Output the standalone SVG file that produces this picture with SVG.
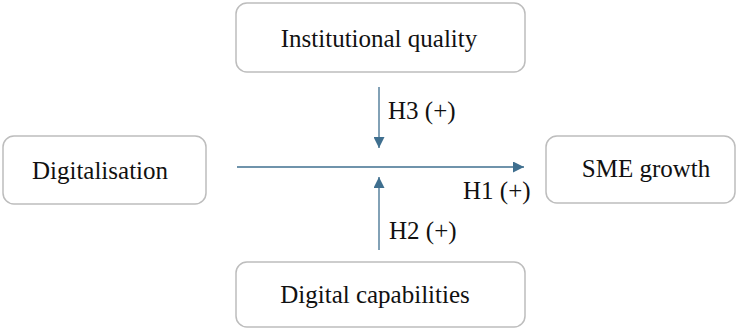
<svg xmlns="http://www.w3.org/2000/svg" width="737" height="329" viewBox="0 0 737 329">
<style>
.box{fill:#fff;stroke:#bdbdbd;stroke-width:1.5}
.t{font-family:"Liberation Serif",serif;font-size:25px;fill:#111}
.c{stroke:#3f6f8f;stroke-width:1.3;fill:none}
</style>
<defs>
<marker id="ah" viewBox="0 0 10 10" refX="10" refY="5" markerWidth="11" markerHeight="11" markerUnits="userSpaceOnUse" orient="auto">
<path d="M0,0 L10,5 L0,10 z" fill="#3f6f8f"/>
</marker>
</defs>
<rect width="737" height="329" fill="#fff"/>
<g id="digitalisation"><rect class="box" x="3" y="136" width="203" height="68" rx="11"/><text class="t" x="100" y="179" text-anchor="middle">Digitalisation</text></g>
<g id="institutional"><rect class="box" x="236" y="3" width="289" height="69" rx="11"/><text class="t" x="379" y="47" text-anchor="middle">Institutional quality</text></g>
<g id="sme"><rect class="box" x="546" y="136" width="189" height="67" rx="11"/><text class="t" x="646" y="177" text-anchor="middle">SME growth</text></g>
<g id="capabilities"><rect class="box" x="236" y="262" width="289" height="65" rx="11"/><text class="t" x="375" y="303" text-anchor="middle">Digital capabilities</text></g>
<g id="connectors">
<line class="c" x1="237" y1="167" x2="524" y2="167" marker-end="url(#ah)"/>
<line class="c" x1="379" y1="87" x2="379" y2="148" marker-end="url(#ah)"/>
<line class="c" x1="379" y1="250" x2="379" y2="177" marker-end="url(#ah)"/>
<text class="t" x="463" y="199">H1 (+)</text>
<text class="t" x="389" y="239">H2 (+)</text>
<text class="t" x="388" y="119">H3 (+)</text>
</g>
</svg>
